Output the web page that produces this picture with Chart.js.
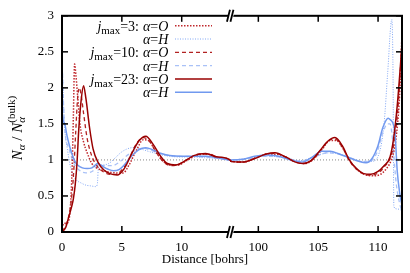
<!DOCTYPE html>
<html>
<head>
<meta charset="utf-8">
<script src="https://cdn.jsdelivr.net/npm/chart.js@4"></script>
<style>
  html, body { margin: 0; padding: 0; background: #fff; }
  #wrap { width: 410px; height: 273px; }
</style>
</head>
<body>
<div id="wrap"><canvas id="chart" width="410" height="273"></canvas></div>
<script>
// broken x axis: 0..14.1 then 97.7..112
const BREAK_LO = 14.11;
const BREAK_HI = 97.71;
const SHIFT = BREAK_HI - BREAK_LO;
const X_MAX = 112;

const xTicks = [0, 5, 10, 100, 105, 110];
const yTicks = [0, 0.5, 1, 1.5, 2, 2.5, 3];

// jmax=3, alpha=O
const o3X = [0, 0.15, 0.35, 0.55, 0.7, 0.85, 0.95, 1.05, 1.15, 1.3, 1.5, 1.8, 2.1, 2.5, 3.0, 3.5, 4.0, 4.6, 5.1, 5.6, 6.2, 6.8, 7.3, 7.8, 8.4, 9.0, 9.7, 10.4, 11.2, 12.2, 13.2, 14.1,
  97.7, 98.8, 99.8, 100.7, 101.5, 102.4, 103.2, 103.9, 104.6, 105.3, 106.0, 106.5, 107.1, 107.7, 108.3, 109.0, 109.6, 110.2, 110.7, 111.1, 111.5, 111.8, 112];
const o3Y = [0.05, 0.12, 0.12, 0.15, 0.35, 0.9, 1.6, 2.33, 2.2, 1.9, 1.5, 1.25, 1.1, 0.95, 0.88, 0.85, 0.83, 0.82, 0.82, 0.93, 1.13, 1.28, 1.26, 1.12, 0.99, 0.93, 0.93, 0.99, 1.06, 1.08, 1.03, 0.99,
  0.98, 0.97, 1.03, 1.08, 1.08, 1.03, 0.97, 0.95, 1.01, 1.14, 1.27, 1.27, 1.15, 0.97, 0.86, 0.79, 0.78, 0.8, 0.88, 1.0, 1.3, 1.9, 2.75];

// jmax=3, alpha=H
const h3X = [0, 0.1, 0.25, 0.45, 0.65, 0.9, 1.2, 1.6, 2.0, 2.4, 2.8, 2.95, 3.05, 3.4, 3.9, 4.4, 4.9, 5.4, 5.9, 6.4, 7.0, 7.6, 8.3, 9.0, 10.0, 11.0, 12.0, 13.0, 14.1,
  97.7, 99.0, 100.5, 102.0, 103.5, 105.0, 106.0, 107.0, 108.0, 108.8, 109.5, 110.0, 110.5, 110.8, 111.15, 111.25, 111.32, 111.6, 112];
const h3Y = [2.5, 1.9, 1.4, 1.15, 0.95, 0.8, 0.72, 0.68, 0.65, 0.64, 0.63, 0.66, 0.92, 0.93, 0.95, 1.02, 1.1, 1.15, 1.17, 1.16, 1.13, 1.1, 1.07, 1.05, 1.04, 1.04, 1.03, 1.02, 1.0,
  1.0, 1.02, 1.05, 1.04, 0.99, 1.07, 1.1, 1.07, 1.01, 0.97, 0.98, 1.05, 1.5, 2.2, 2.95, 2.2, 0.35, 0.32, 0.3];

// jmax=10, alpha=O
const o10X = [0, 0.3, 0.6, 0.85, 1.0, 1.15, 1.3, 1.45, 1.6, 1.8, 2.1, 2.5, 3.0, 3.5, 4.0, 4.5, 5.0, 5.6, 6.2, 6.8, 7.3, 7.9, 8.5, 9.2, 9.9, 10.6, 11.4, 12.3, 13.2, 14.1,
  97.7, 98.7, 99.7, 100.6, 101.4, 102.3, 103.1, 103.8, 104.5, 105.2, 105.9, 106.4, 107.0, 107.6, 108.2, 108.9, 109.5, 110.1, 110.6, 111.0, 111.4, 111.7, 112];
const o10Y = [0.02, 0.08, 0.25, 0.55, 0.9, 1.4, 1.85, 2.0, 1.9, 1.65, 1.3, 1.05, 0.9, 0.83, 0.8, 0.8, 0.86, 1.02, 1.22, 1.31, 1.26, 1.1, 0.97, 0.92, 0.95, 1.02, 1.08, 1.08, 1.03, 0.99,
  0.98, 0.97, 1.02, 1.08, 1.09, 1.04, 0.97, 0.95, 1.0, 1.13, 1.27, 1.29, 1.18, 0.99, 0.87, 0.8, 0.79, 0.83, 0.92, 1.02, 1.3, 1.8, 2.65];

// jmax=10, alpha=H
const h10X = [0, 0.2, 0.6, 1.0, 1.5, 2.0, 2.6, 3.0, 3.6, 4.2, 4.8, 5.5, 6.2, 6.8, 7.5, 8.3, 9.0, 10.0, 11.0, 12.0, 13.0, 14.1,
  97.7, 99.0, 100.5, 102.0, 103.5, 104.8, 105.8, 106.8, 107.8, 108.6, 109.3, 109.9, 110.4, 110.8, 111.0, 111.2, 111.5, 111.8, 112];
const h10Y = [2.4, 1.5, 1.15, 0.95, 0.85, 0.82, 0.85, 0.93, 0.92, 0.92, 0.97, 1.07, 1.14, 1.16, 1.13, 1.08, 1.06, 1.05, 1.05, 1.04, 1.02, 1.0,
  1.0, 1.01, 1.05, 1.04, 0.98, 1.05, 1.1, 1.08, 1.02, 0.98, 0.98, 1.1, 1.38, 1.5, 1.5, 1.3, 0.7, 0.4, 0.28];

// jmax=23, alpha=O
const o23X = [0, 0.3, 0.55, 0.8, 0.95, 1.1, 1.25, 1.4, 1.6, 1.8, 2.0, 2.3, 2.6, 3.0, 3.5, 4.0, 4.6, 5.2, 5.8, 6.4, 7.0, 7.6, 8.2, 8.8, 9.5, 10.2, 11.0, 12.0, 13.0, 14.1,
  97.7, 98.7, 99.7, 100.6, 101.4, 102.3, 103.1, 103.7, 104.4, 105.1, 105.8, 106.4, 107.0, 107.6, 108.2, 108.8, 109.4, 110.0, 110.5, 111.0, 111.3, 111.6, 112];
const o23Y = [0, 0.06, 0.2, 0.35, 0.46, 0.65, 0.95, 1.42, 1.83, 2.03, 1.85, 1.45, 1.15, 0.97, 0.86, 0.81, 0.79, 0.88, 1.08, 1.26, 1.33, 1.22, 1.06, 0.95, 0.93, 0.98, 1.06, 1.09, 1.04, 0.99,
  0.98, 0.97, 1.02, 1.08, 1.1, 1.04, 0.97, 0.95, 0.99, 1.12, 1.26, 1.31, 1.2, 1.0, 0.88, 0.81, 0.8, 0.84, 0.92, 1.04, 1.3, 1.75, 2.6];

// jmax=23, alpha=H
const h23X = [0, 0.05, 0.25, 0.4, 0.67, 1.08, 1.3, 1.7, 2.1, 2.5, 3.0, 3.3, 3.86, 4.3, 4.8, 5.3, 5.8, 6.4, 7.0, 7.6, 8.3, 9.0, 10.0, 11.0, 12.0, 13.0, 14.1,
  97.7, 98.7, 99.7, 100.7, 101.7, 102.7, 103.7, 104.5, 105.3, 106.0, 106.8, 107.6, 108.4, 109.0, 109.5, 110.0, 110.4, 110.85, 111.0, 111.4, 111.6, 111.8, 112];
const h23Y = [1.75, 1.6, 1.49, 1.35, 1.17, 0.98, 0.93, 0.89, 0.88, 0.89, 0.95, 0.92, 0.87, 0.85, 0.87, 0.95, 1.05, 1.14, 1.17, 1.14, 1.09, 1.06, 1.05, 1.05, 1.05, 1.03, 1.0,
  1.0, 1.01, 1.05, 1.07, 1.05, 1.0, 0.97, 1.04, 1.12, 1.12, 1.08, 1.03, 0.98, 0.96, 1.02, 1.2, 1.45, 1.58, 1.56, 1.4, 0.85, 0.55, 0.37];

// bulk reference
const refX = [0, 112];
const refY = [1, 1];

const SERIF = '"Liberation Serif", "DejaVu Serif", serif';
const font = (size, italic) => (italic ? 'italic ' : '') + size + 'px ' + SERIF;

function mapX(x) {
  return x > BREAK_LO + 1 ? x - SHIFT : x;
}
function pts(xs, ys) {
  return xs.map((x, i) => ({ x: mapX(x), y: ys[i] }));
}

const series = [
  { label: 'O3', xs: o3X, ys: o3Y, color: '#c0282d', dash: [1.5, 1.5], width: 1.5, order: 4 },
  { label: 'H3', xs: h3X, ys: h3Y, color: '#80a6f4', dash: [1, 1.5], width: 1, order: 6 },
  { label: 'O10', xs: o10X, ys: o10Y, color: '#b22222', dash: [4, 3], width: 1.3, order: 3 },
  { label: 'H10', xs: h10X, ys: h10Y, color: '#a9c1f7', dash: [4, 3], width: 1.3, order: 5 },
  { label: 'O23', xs: o23X, ys: o23Y, color: '#990000', dash: [], width: 1.5, order: 1 },
  { label: 'H23', xs: h23X, ys: h23Y, color: '#7199ef', dash: [], width: 1.5, order: 2 },
];

const datasets = series.map(s => ({
  label: s.label,
  data: pts(s.xs, s.ys),
  borderColor: s.color,
  borderWidth: s.width,
  borderDash: s.dash,
  pointRadius: 0,
  fill: false,
  cubicInterpolationMode: 'monotone',
  order: s.order,
}));
datasets.push({
  label: 'ref',
  data: refX.map((x, i) => ({ x: x > BREAK_LO ? x - SHIFT : x, y: refY[i] })),
  borderColor: '#888',
  borderWidth: 1,
  borderDash: [1, 2],
  pointRadius: 0,
  order: 7,
});

// draw text made of pieces (italics, sub/superscripts)
function richWidth(ctx, parts) {
  let x = 0, w = 0;
  parts.forEach(p => {
    ctx.font = p.f;
    const tw = ctx.measureText(p.t).width;
    w = Math.max(w, x + tw);
    if (!p.hold) x += tw;
  });
  return w;
}
function drawRich(ctx, parts, x, y) {
  parts.forEach(p => {
    ctx.font = p.f;
    ctx.fillText(p.t, x, y + (p.dy || 0));
    if (!p.hold) x += ctx.measureText(p.t).width;
  });
}

const legendRows = [
  { j: '3', a: 'O', s: series[0] },
  { j: null, a: 'H', s: series[1] },
  { j: '10', a: 'O', s: series[2] },
  { j: null, a: 'H', s: series[3] },
  { j: '23', a: 'O', s: series[4] },
  { j: null, a: 'H', s: series[5] },
];

const overlay = {
  id: 'overlay',
  afterDraw(chart) {
    const { ctx, chartArea: a, scales: { x, y } } = chart;
    const line = (x1, y1, x2, y2) => {
      ctx.beginPath(); ctx.moveTo(x1, y1); ctx.lineTo(x2, y2); ctx.stroke();
    };
    ctx.save();
    ctx.strokeStyle = '#000';

    // inward ticks on all sides
    ctx.lineWidth = 1.5;
    x.ticks.forEach(t => {
      const px = x.getPixelForValue(t.value);
      line(px, a.bottom, px, a.bottom - 6);
      line(px, a.top, px, a.top + 6);
    });
    y.ticks.forEach(t => {
      const py = y.getPixelForValue(t.value);
      line(a.left, py, a.left + 6, py);
      line(a.right, py, a.right - 6, py);
    });

    // frame
    ctx.lineWidth = 2;
    ctx.strokeRect(a.left, a.top, a.right - a.left, a.bottom - a.top);

    // axis break marks
    const bx = x.getPixelForValue(BREAK_LO);
    [a.top, a.bottom].forEach(by => {
      ctx.fillStyle = '#fff';
      ctx.beginPath();
      ctx.moveTo(bx - 4, by + 6); ctx.lineTo(bx - 1, by - 6);
      ctx.lineTo(bx + 4, by - 6); ctx.lineTo(bx + 1, by + 6);
      ctx.closePath(); ctx.fill();
      ctx.lineWidth = 1.8;
      line(bx - 4, by + 6, bx - 1, by - 6);
      line(bx - 0.5, by + 6, bx + 2.5, by - 6);
    });

    // legend
    ctx.fillStyle = '#000';
    ctx.textBaseline = 'alphabetic';
    legendRows.forEach((r, i) => {
      const ry = 25.7 + i * 13.3;
      if (r.j) {
        const parts = [
          { t: 'j', f: font(14, true) },
          { t: 'max', f: font(11, false), dy: 3 },
          { t: '=' + r.j + ':', f: font(14, false) },
        ];
        drawRich(ctx, parts, 139 - richWidth(ctx, parts), ry + 5);
      }
      drawRich(ctx, [
        { t: 'α', f: font(14, true) },
        { t: '=', f: font(14, false) },
        { t: r.a, f: font(14, true) },
      ], 143, ry + 5);
      ctx.strokeStyle = r.s.color;
      ctx.lineWidth = r.s.width;
      ctx.setLineDash(r.s.dash);
      line(175, ry, 212, ry);
      ctx.setLineDash([]);
    });

    // axis titles
    ctx.fillStyle = '#000';
    ctx.font = font(13, false);
    ctx.textAlign = 'center';
    ctx.fillText('Distance [bohrs]', 205, 263);
    ctx.textAlign = 'left';

    const yParts = [
      { t: 'N', f: font(15, true) },
      { t: 'α', f: font(11, true), dy: 3 },
      { t: ' / ', f: font(15, false) },
      { t: 'N', f: font(15, true) },
      { t: '(bulk)', f: font(11, false), dy: -7, hold: true },
      { t: 'α', f: font(11, true), dy: 3 },
    ];
    ctx.translate(22, 128);
    ctx.rotate(-Math.PI / 2);
    drawRich(ctx, yParts, -richWidth(ctx, yParts) / 2, 0);
    ctx.restore();
  },
};

new Chart(document.getElementById('chart'), {
  type: 'line',
  data: { datasets },
  options: {
    responsive: false,
    animation: false,
    devicePixelRatio: 1,
    layout: { padding: { top: 13, right: 8, left: 0, bottom: 0 } },
    plugins: { legend: { display: false }, tooltip: { enabled: false } },
    scales: {
      x: {
        type: 'linear',
        min: 0,
        max: X_MAX - SHIFT,
        grid: { display: false, drawTicks: false },
        border: { display: false },
        afterBuildTicks: s => { s.ticks = xTicks.map(v => ({ value: mapX(v) })); },
        afterFit: s => { s.height = 41; },
        ticks: {
          padding: 8,
          color: '#000',
          font: { family: SERIF, size: 13 },
          maxRotation: 0,
          callback: v => String(v > BREAK_LO ? Math.round(v + SHIFT) : v),
        },
      },
      y: {
        min: 0,
        max: 3,
        grid: { display: false, drawTicks: false },
        border: { display: false },
        afterBuildTicks: s => { s.ticks = yTicks.map(v => ({ value: v })); },
        afterFit: s => { s.width = 62; },
        ticks: {
          padding: 8,
          color: '#000',
          font: { family: SERIF, size: 13 },
          callback: v => String(v),
        },
      },
    },
  },
  plugins: [overlay],
});
</script>
</body>
</html>
